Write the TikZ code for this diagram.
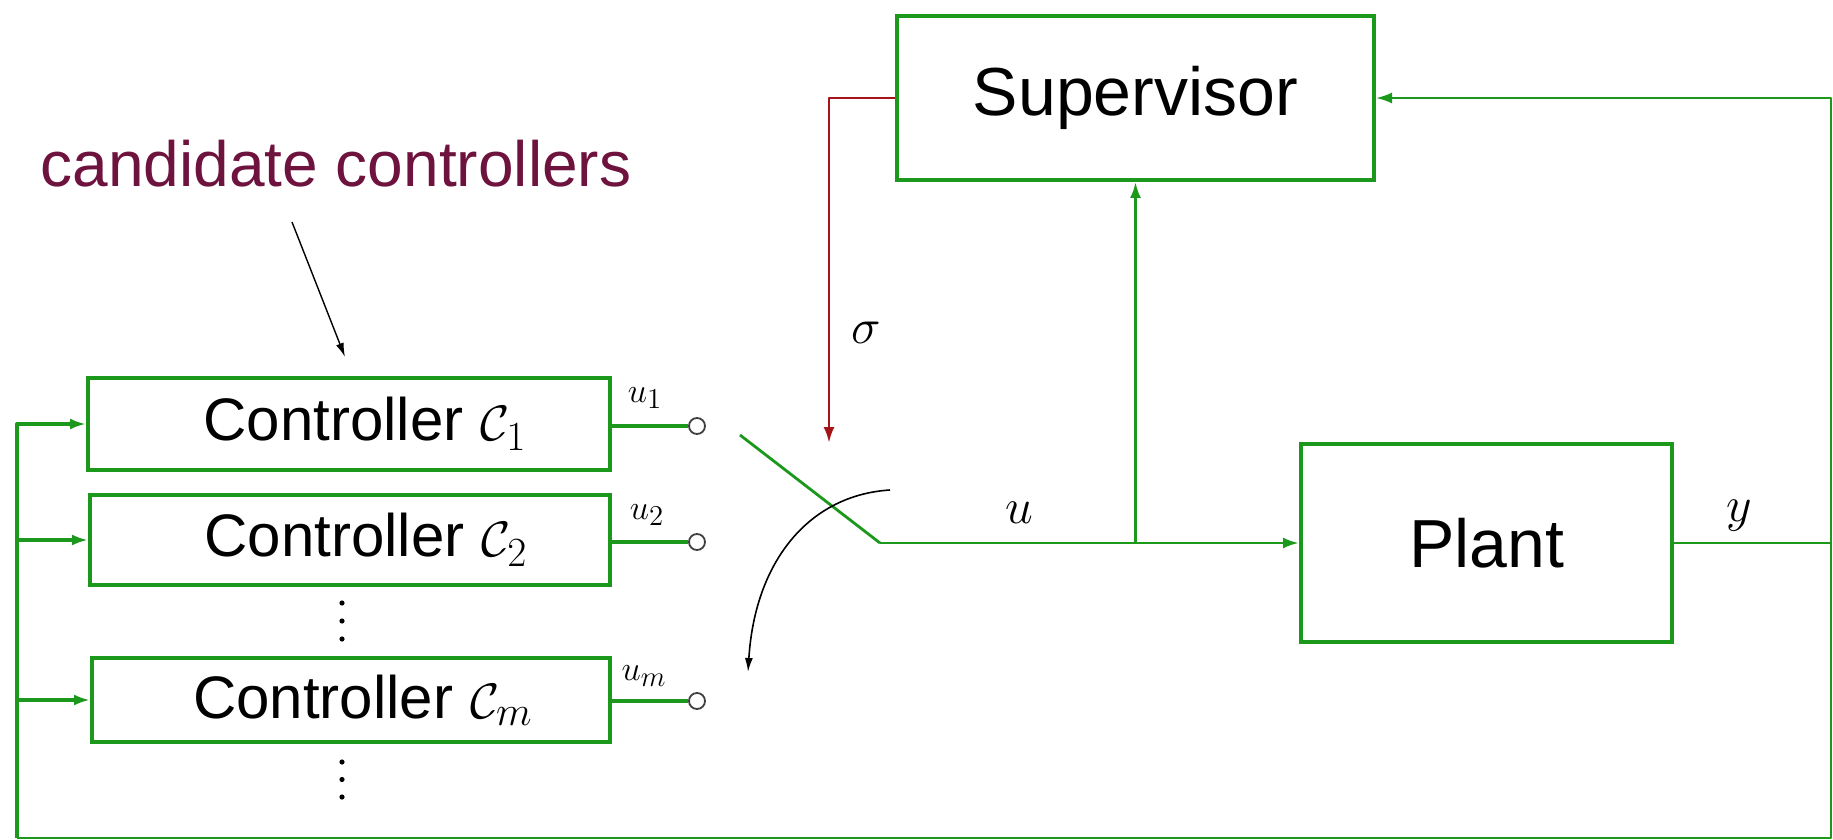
\documentclass[tikz,border=0pt]{standalone}
\usepackage{fontspec}
\setmainfont{Liberation Sans}
\usetikzlibrary{arrows.meta,calc}
\definecolor{lgreen}{RGB}{28,152,28}
\definecolor{dred}{RGB}{165,20,25}
\definecolor{maroon}{RGB}{110,18,62}
\begin{document}
\begin{tikzpicture}[x=0.5pt,y=-0.5pt,
  box/.style={draw=lgreen,line width=2pt,inner sep=0pt,fill=white},
  conn/.style={draw=lgreen,line width=1.4pt,line join=round},
  thick conn/.style={draw=lgreen,line width=2pt,line join=round},
  gtip/.style={-{Latex[length=8pt,width=5.5pt]}},
  term/.style={circle,draw=black!75,line width=0.9pt,fill=white,minimum size=8pt,inner sep=0pt},
  mlab/.style={font=\fontsize{26}{31}\selectfont},
  slab/.style={font=\fontsize{19}{23}\selectfont},
  ctext/.style={font=\fontsize{30}{36}\selectfont},
  vdot/.style={circle,fill=black,minimum size=2.6pt,inner sep=0pt}]
\useasboundingbox (0,0) rectangle (1833,840);
\fill[white] (0,0) rectangle (1833,840);

% boxes
\node[box,minimum width=238.5pt,minimum height=82pt,font=\fontsize{34}{40}\selectfont] (sup) at (1135.5,98) {Supervisor};
\node[box,minimum width=185.5pt,minimum height=99pt,font=\fontsize{34}{40}\selectfont] (plant) at (1486.5,543) {Plant};
\node[box,minimum width=261pt,minimum height=46pt,label={[ctext,xshift=8pt]center:Controller $\mathcal{C}_1$}] (c1) at (349,424) {};
\node[box,minimum width=260pt,minimum height=45pt,label={[ctext,xshift=8pt]center:Controller $\mathcal{C}_2$}] (c2) at (350,540) {};
\node[box,minimum width=259pt,minimum height=42pt,label={[ctext,xshift=6pt]center:Controller $\mathcal{C}_m$}] (cm) at (351,700) {};

% vertical ellipses
\node[vdot] (d1a) at (342,603) {};
\node[vdot] (d1b) at (342,621) {};
\node[vdot] (d1c) at (342,639) {};
\node[vdot] (d2a) at (342,762) {};
\node[vdot] (d2b) at (342,779.5) {};
\node[vdot] (d2c) at (342,797) {};

% candidate controllers
\node[text=maroon,font=\fontsize{32}{38}\selectfont] (cand) at (336,164) {candidate controllers};
\coordinate (candtip) at (345,357);
\coordinate (candfrom) at (292,222);
\draw[line width=0.7pt,-{Latex[length=7pt,width=4pt]}] (candfrom) -- (candtip);

% terminals
\node[term] (t1) at (697,426) {};
\node[term] (t2) at (697,542) {};
\node[term] (tm) at (697,701) {};
\draw[thick conn] (c1.east |- t1) -- (t1.west);
\draw[thick conn] (c2.east |- t2) -- (t2.west);
\draw[thick conn] (cm.east |- tm) -- (tm.west);
\node[slab] (lu1) at (645,398) {$u_1$};
\node[slab] (lu2) at (647,515) {$u_2$};
\node[slab] (lum) at (644,676) {$u_m$};

% switch
\coordinate (blade) at (740,435);
\coordinate (piv) at (880,543);
\draw[conn] (blade) -- (piv);
\draw[conn,gtip] (piv) -- (plant.west);
\node[mlab] (lu) at (1019,513) {$u$};

% branch to supervisor
\draw[conn,gtip] (piv -| sup.south) -- (sup.south);

% sigma (red)
\coordinate (rtip) at (829,443);
\draw[draw=dred,line width=1.4pt,line join=round,-{Latex[length=8pt,width=5.5pt]}] (sup.west) -| (rtip);
\node[mlab] (lsig) at (866,333) {$\sigma$};

% curved switching arrow
\coordinate (cs) at (890,490);
\coordinate (ce) at (748,672);
\draw[line width=0.8pt,-{Latex[length=7pt,width=4pt]}] (cs) .. controls (810,495) and (755,560) .. (ce);

% plant output and feedback
\coordinate (br) at (1831,838);
\coordinate (bl) at (17,838);
\draw[conn] (plant.east) -- (plant.east -| br);
\node[mlab] (ly) at (1739,516) {$y$};
\draw[conn,line width=1.1pt,gtip] (bl) -- (br) |- (sup.east);
\draw[thick conn,gtip] (bl) |- (c1.west);
\draw[thick conn,gtip] (bl |- c2.west) -- (c2.west);
\draw[thick conn,gtip] (bl |- cm.west) -- (cm.west);
\end{tikzpicture}
\end{document}
